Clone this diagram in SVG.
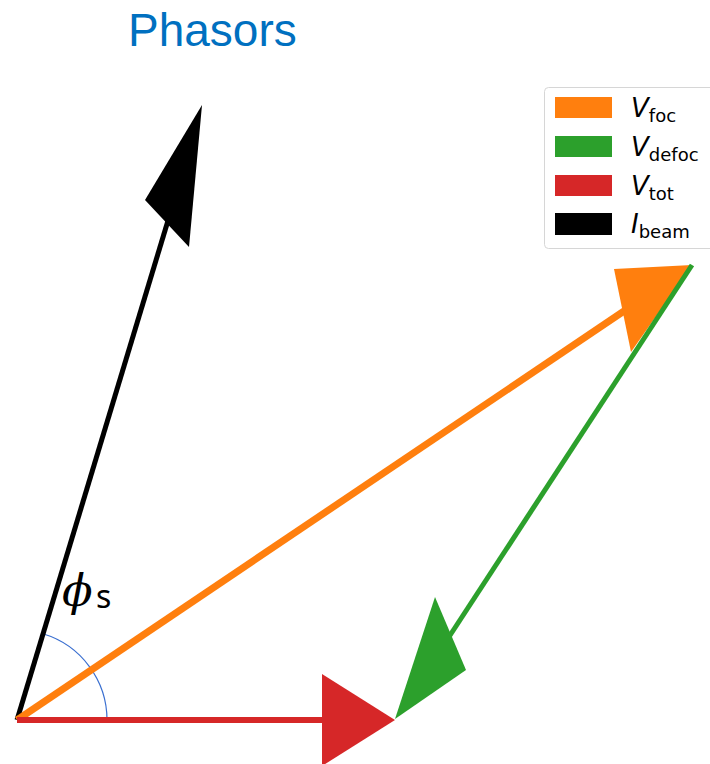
<svg xmlns="http://www.w3.org/2000/svg" width="710" height="764" viewBox="0 0 710 764">
<style>
.title{font-family:"Liberation Sans",Arial,sans-serif;font-size:46px;fill:#0070c0}
.leg{font-family:"DejaVu Sans",sans-serif;fill:#000}
.main{font-size:26px;font-style:italic}
.sub{font-size:18px}
</style>
<rect width="710" height="764" fill="#fff"/>
<text class="title" x="128" y="46">Phasors</text>
<g id="arc"><path d="M107,720 A90,90 0 0 0 42.9,633.8" fill="none" stroke="#3a6fd0" stroke-width="1.2"/></g>
<g id="connectors">
<g id="ibeam">
<line x1="17" y1="720" x2="170" y2="214" stroke="#000" stroke-width="5"/>
<polygon points="202,105 145,200 189,247" fill="#000"/>
</g>
<g id="vfoc">
<line x1="17" y1="720" x2="630" y2="307" stroke="#ff7f0e" stroke-width="7"/>
<polygon points="692,265 614,269 631,352" fill="#ff7f0e"/>
</g>
<g id="vdefoc">
<line x1="692" y1="265" x2="445" y2="643" stroke="#2ca02c" stroke-width="5"/>
<polygon points="395,719 435,597 466,670" fill="#2ca02c"/>
</g>
<g id="vtot">
<line x1="17" y1="720" x2="330" y2="720" stroke="#d62728" stroke-width="6"/>
<polygon points="395,720 322,674 322,766" fill="#d62728"/>
</g>
</g>
<g id="phi">
<text x="62" y="606" font-family="'DejaVu Serif',serif" font-style="italic" font-size="45">ϕ</text>
<text x="96" y="608" font-family="'Noto Sans',sans-serif" font-size="32">s</text>
</g>
<g id="legend">
<rect x="544.5" y="87.5" width="180" height="161" rx="4" fill="#fff" fill-opacity="0.85" stroke="#d6d6d6" stroke-width="1"/>
<rect x="555" y="97" width="57" height="21" fill="#ff7f0e"/>
<rect x="555" y="136" width="57" height="21" fill="#2ca02c"/>
<rect x="555" y="175" width="57" height="21" fill="#d62728"/>
<rect x="555" y="213" width="57" height="22" fill="#000"/>
<text class="leg" x="631" y="117"><tspan class="main">V</tspan><tspan class="sub" dy="5">foc</tspan></text>
<text class="leg" x="631" y="156"><tspan class="main">V</tspan><tspan class="sub" dy="5">defoc</tspan></text>
<text class="leg" x="631" y="195"><tspan class="main">V</tspan><tspan class="sub" dy="5">tot</tspan></text>
<text class="leg" x="631" y="233"><tspan class="main">I</tspan><tspan class="sub" dy="5">beam</tspan></text>
</g>
</svg>
